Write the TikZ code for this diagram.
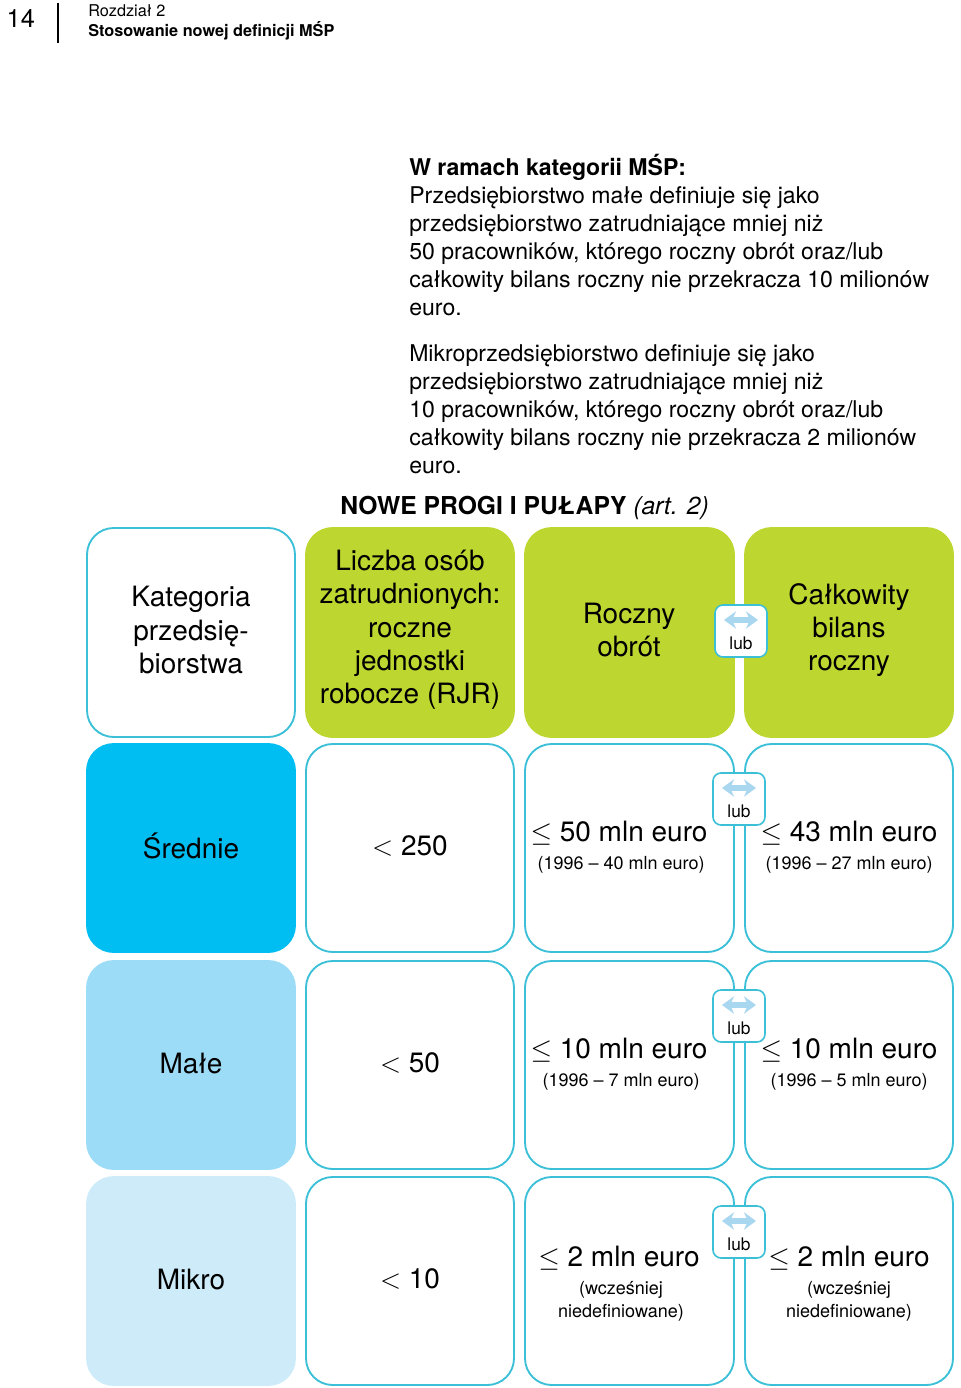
\documentclass[tikz,border=0pt]{standalone}
\usepackage{fontspec}
\setmainfont{TeX Gyre Heros}
\usetikzlibrary{arrows.meta}
\begin{document}
\begin{tikzpicture}[x=0.75pt,y=-0.75pt,
  cell/.style={draw=cyanB,line width=1.4pt,rounded corners=20pt},
  big/.style={font=\fontsize{21}{25}\selectfont,align=center},
  sm/.style={font=\fontsize{13.5}{17}\selectfont,align=center},
  lubbox/.style={draw=cyanB,fill=white,line width=1.2pt,rounded corners=6pt,minimum width=39pt,minimum height=39pt,inner sep=0pt}]
\definecolor{cyanB}{RGB}{60,192,216}
\definecolor{grn}{RGB}{190,214,48}
\definecolor{c1}{RGB}{0,189,242}
\definecolor{c2}{RGB}{157,220,247}
\definecolor{c3}{RGB}{205,235,249}
\definecolor{arr}{RGB}{170,215,240}
\useasboundingbox (0,0) rectangle (960,1388);
% header
\node[anchor=west,font=\fontsize{19}{22}\selectfont] (pg) at (2,19) {14};
\draw[line width=0.8pt] (58,3) -- (58,43);
\node[anchor=north west,inner sep=0pt,align=left,font=\fontsize{12.2}{15}\selectfont] (hd) at (88,4) {Rozdział 2\\\textbf{Stosowanie nowej definicji MŚP}};
\node[anchor=north west,inner sep=0pt,align=left,font=\fontsize{17.3}{21}\selectfont] (p1) at (409,154) {\textbf{W ramach kategorii MŚP:}\\Przedsiębiorstwo małe definiuje się jako\\przedsiębiorstwo zatrudniające mniej niż\\50 pracowników, którego roczny obrót oraz/lub\\całkowity bilans roczny nie przekracza 10 milionów\\euro.};
\node[anchor=north west,inner sep=0pt,align=left,font=\fontsize{17.3}{21}\selectfont] (p2) at (409,344) {Mikroprzedsiębiorstwo definiuje się jako\\przedsiębiorstwo zatrudniające mniej niż\\10 pracowników, którego roczny obrót oraz/lub\\całkowity bilans roczny nie przekracza 2 milionów\\euro.};
\node[anchor=west,inner sep=0pt,font=\fontsize{18.5}{22}\selectfont] (tt) at (340,508) {\textbf{NOWE PROGI I PUŁAPY} \textit{(art. 2)}};
% header row
\draw[cell,fill=white] (87,528) rectangle (295,737);
\node[big] (k) at (191,630) {Kategoria\\przedsię-\\biorstwa};
\draw[cell,draw=grn,fill=grn] (306,528) rectangle (514,737);
\node[big] (l) at (410,630) {Liczba osób\\zatrudnionych:\\roczne\\jednostki\\robocze (RJR)};
\draw[cell,draw=grn,fill=grn] (525,528) rectangle (734,737);
\node[big] (r) at (629,630) {Roczny\\obrót};
\draw[cell,draw=grn,fill=grn] (745,528) rectangle (953,737);
\node[big] (c) at (849,630) {Całkowity\\bilans\\roczny};
% data rows
\foreach \y/\f/\name/\n/\a/\aa/\b/\bb/\d in {
 744/c1/Średnie/{$<$ 250}/{$\leq$ 50 mln euro}/{(1996 -- 40 mln euro)}/{$\leq$ 43 mln euro}/{(1996 -- 27 mln euro)}/0,
 961/c2/Małe/{$<$ 50}/{$\leq$ 10 mln euro}/{(1996 -- 7 mln euro)}/{$\leq$ 10 mln euro}/{(1996 -- 5 mln euro)}/0,
 1177/c3/Mikro/{$<$ 10}/{$\leq$ 2 mln euro}/{(wcześniej\\niedefiniowane)}/{$\leq$ 2 mln euro}/{(wcześniej\\niedefiniowane)}/8}{
  \draw[cell,draw=\f,fill=\f] (87,\y) rectangle (295,\y+208);
  \draw[cell,fill=white] (306,\y) rectangle (514,\y+208);
  \draw[cell,fill=white] (525,\y) rectangle (734,\y+208);
  \draw[cell,fill=white] (745,\y) rectangle (953,\y+208);
  \node[big] at (191,\y+102) {\name};
  \node[big] at (410,\y+102) {\n};
  \node[big,anchor=south] at (619,\y+106-\d) {\a};
  \node[sm,anchor=north] at (621,\y+108-\d) {\aa};
  \node[big,anchor=south] at (849,\y+106-\d) {\b};
  \node[sm,anchor=north] at (849,\y+108-\d) {\bb};
  \node[lubbox] at (739,\y+55) {};
  \draw[arr,line width=5pt,<->,>={Stealth[length=9pt,width=13pt]}] (722,\y+44) -- (756,\y+44);
  \node[font=\fontsize{13}{15}\selectfont] at (739,\y+67) {lub};
}
\node[lubbox] (lb) at (741,631) {};
\draw[arr,line width=5pt,<->,>={Stealth[length=9pt,width=13pt]}] (724,620) -- (758,620);
\node[font=\fontsize{13}{15}\selectfont] at (741,643) {lub};
\end{tikzpicture}
\end{document}
